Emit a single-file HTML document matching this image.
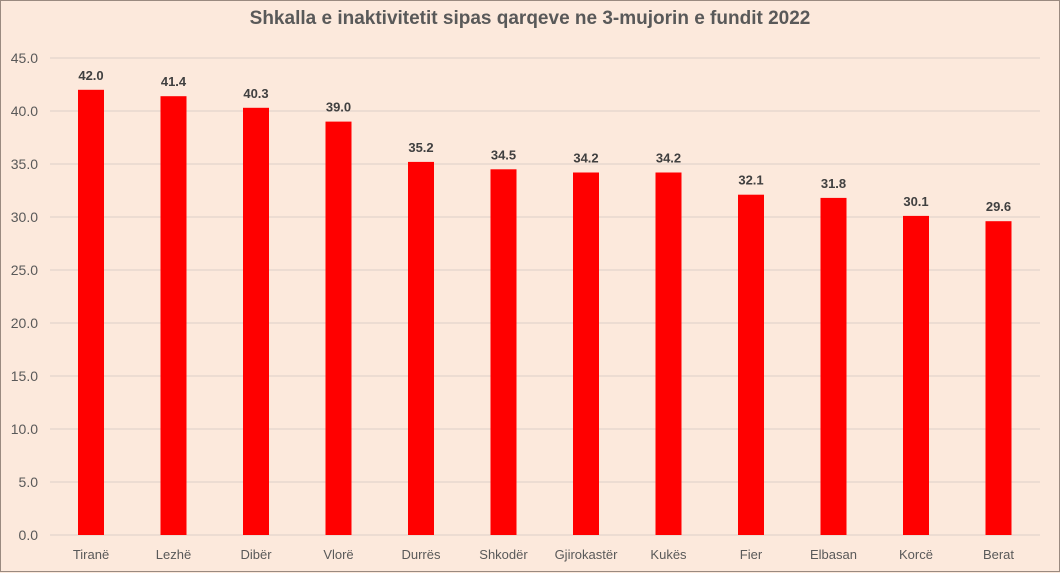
<!DOCTYPE html><html><head><style>body{margin:0}</style></head><body>
<svg width="1060" height="573" xmlns="http://www.w3.org/2000/svg" font-family="Liberation Sans, sans-serif">
<rect width="1060" height="573" fill="#fce9dc"/>
<rect x="0.5" y="0.5" width="1059" height="571" fill="none" stroke="#9a8a80"/>
<text x="530" y="24" text-anchor="middle" font-size="19" font-weight="bold" fill="#595959">Shkalla e inaktivitetit sipas qarqeve ne 3-mujorin e fundit 2022</text>
<g stroke="#dcd0c8" stroke-width="1">
<line x1="50" x2="1040" y1="58" y2="58"/><line x1="50" x2="1040" y1="111" y2="111"/><line x1="50" x2="1040" y1="164" y2="164"/><line x1="50" x2="1040" y1="217" y2="217"/><line x1="50" x2="1040" y1="270" y2="270"/><line x1="50" x2="1040" y1="323" y2="323"/><line x1="50" x2="1040" y1="376" y2="376"/><line x1="50" x2="1040" y1="429" y2="429"/><line x1="50" x2="1040" y1="482" y2="482"/><line x1="50" x2="1040" y1="535" y2="535"/>
</g>
<g font-size="14" fill="#595959" text-anchor="end">
<text x="38" y="63">45.0</text><text x="38" y="116">40.0</text><text x="38" y="169">35.0</text><text x="38" y="222">30.0</text><text x="38" y="275">25.0</text><text x="38" y="328">20.0</text><text x="38" y="381">15.0</text><text x="38" y="434">10.0</text><text x="38" y="487">5.0</text><text x="38" y="540">0.0</text>
</g>
<g fill="#ff0000">
<rect x="78" y="89.8" width="26" height="445.2"/>
<rect x="160.5" y="96.2" width="26" height="438.8"/>
<rect x="243" y="107.8" width="26" height="427.2"/>
<rect x="325.5" y="121.6" width="26" height="413.4"/>
<rect x="408" y="161.9" width="26" height="373.1"/>
<rect x="490.5" y="169.3" width="26" height="365.7"/>
<rect x="573" y="172.5" width="26" height="362.5"/>
<rect x="655.5" y="172.5" width="26" height="362.5"/>
<rect x="738" y="194.7" width="26" height="340.3"/>
<rect x="820.5" y="197.9" width="26" height="337.1"/>
<rect x="903" y="215.9" width="26" height="319.1"/>
<rect x="985.5" y="221.2" width="26" height="313.8"/>
</g>
<g font-size="13" font-weight="bold" fill="#404040" text-anchor="middle">
<text x="91" y="79.8">42.0</text>
<text x="173.5" y="86.2">41.4</text>
<text x="256" y="97.8">40.3</text>
<text x="338.5" y="111.6">39.0</text>
<text x="421" y="151.9">35.2</text>
<text x="503.5" y="159.3">34.5</text>
<text x="586" y="162.5">34.2</text>
<text x="668.5" y="162.5">34.2</text>
<text x="751" y="184.7">32.1</text>
<text x="833.5" y="187.9">31.8</text>
<text x="916" y="205.9">30.1</text>
<text x="998.5" y="211.2">29.6</text>
</g>
<g font-size="13" fill="#595959" text-anchor="middle">
<text x="91" y="559">Tiranë</text>
<text x="173.5" y="559">Lezhë</text>
<text x="256" y="559">Dibër</text>
<text x="338.5" y="559">Vlorë</text>
<text x="421" y="559">Durrës</text>
<text x="503.5" y="559">Shkodër</text>
<text x="586" y="559">Gjirokastër</text>
<text x="668.5" y="559">Kukës</text>
<text x="751" y="559">Fier</text>
<text x="833.5" y="559">Elbasan</text>
<text x="916" y="559">Korcë</text>
<text x="998.5" y="559">Berat</text>
</g>
</svg>
</body></html>
